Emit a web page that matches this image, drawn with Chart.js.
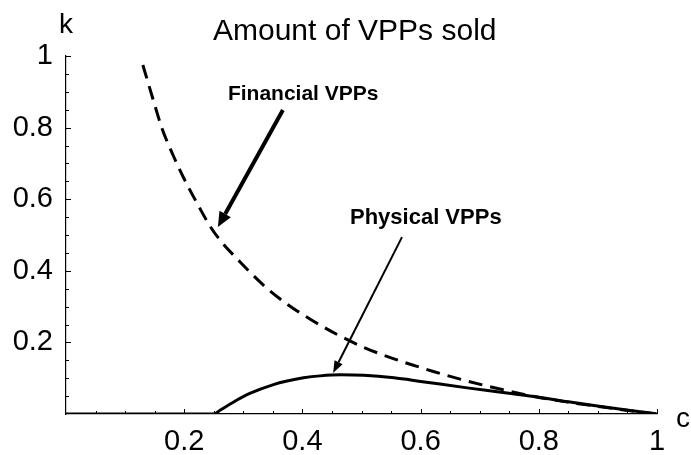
<!DOCTYPE html>
<html>
<head>
<meta charset="utf-8">
<script src="https://cdn.jsdelivr.net/npm/chart.js@4.4.1/dist/chart.umd.min.js"></script>
<style>
  html, body { margin: 0; padding: 0; background: #fff; }
</style>
</head>
<body>
<canvas id="chart" width="691" height="455"></canvas>
<script>
// values: c along the bottom, k up the side
const financialC = [0.130, 0.148, 0.162, 0.182, 0.199, 0.222, 0.244, 0.261, 0.295, 0.334, 0.374, 0.414,
                    0.459, 0.504, 0.555, 0.594, 0.623, 0.679, 0.736, 0.792, 0.850, 0.905, 0.955, 1.0];
const financialK = [0.975, 0.875, 0.800, 0.720, 0.660, 0.588, 0.524, 0.485, 0.424, 0.360, 0.307, 0.264,
                    0.222, 0.186, 0.154, 0.133, 0.118, 0.092, 0.069, 0.049, 0.033, 0.020, 0.009, 0.0];

const physicalC = [0, 0.25, 0.262, 0.283, 0.312, 0.351, 0.374, 0.402, 0.430, 0.465, 0.504, 0.555, 0.600,
                   0.679, 0.736, 0.792, 0.850, 0.905, 0.955, 1.0];
const physicalK = [0, 0, 0.012, 0.033, 0.058, 0.082, 0.092, 0.101, 0.1065, 0.1095, 0.108, 0.101, 0.091,
                   0.073, 0.061, 0.049, 0.034, 0.021, 0.010, 0];

const xTickLabels = [0.2, 0.4, 0.6, 0.8, 1];
const yTickLabels = [0.2, 0.4, 0.6, 0.8, 1];

// callouts, given in data coordinates
const financialNote = { text: 'Financial VPPs', at: [0.274, 0.877], from: [0.367, 0.849], to: [0.257, 0.522] };
const physicalNote = { text: 'Physical VPPs', at: [0.4805, 0.531], from: [0.5685, 0.494], to: [0.452, 0.1145] };

const FONT = '"Liberation Sans", Arial, Helvetica, sans-serif';

function toPoints(xs, ys) {
    return xs.map((x, i) => ({ x: x, y: ys[i] }));
}

function drawArrow(ctx, x1, y1, x2, y2, width, headLen, headHalf) {
    const ang = Math.atan2(y2 - y1, x2 - x1);
    const bx = x2 - headLen * Math.cos(ang);
    const by = y2 - headLen * Math.sin(ang);
    ctx.save();
    ctx.strokeStyle = '#000';
    ctx.fillStyle = '#000';
    ctx.lineWidth = width;
    ctx.beginPath();
    ctx.moveTo(x1, y1);
    ctx.lineTo(bx, by);
    ctx.stroke();
    ctx.beginPath();
    ctx.moveTo(x2, y2);
    ctx.lineTo(bx + headHalf * Math.sin(ang), by - headHalf * Math.cos(ang));
    ctx.lineTo(bx - headHalf * Math.sin(ang), by + headHalf * Math.cos(ang));
    ctx.closePath();
    ctx.fill();
    ctx.restore();
}

// small inward tick marks, the way the original axes have them
const tickMarks = {
    id: 'tickMarks',
    beforeDatasetsDraw(chart) {
        const { ctx, scales: { x, y } } = chart;
        ctx.save();
        ctx.strokeStyle = '#000';
        ctx.lineWidth = 1;
        for (let i = 1; i <= 20; i++) {
            const v = i * 0.05;
            const major = i % 4 === 0;
            const len = major ? 5 : 3;
            const px = Math.round(x.getPixelForValue(v)) + 0.5;
            ctx.beginPath();
            ctx.moveTo(px, y.bottom);
            ctx.lineTo(px, y.bottom - len);
            ctx.stroke();
            const py = Math.round(y.getPixelForValue(v)) + 0.5;
            ctx.beginPath();
            ctx.moveTo(x.left, py);
            ctx.lineTo(x.left + len, py);
            ctx.stroke();
        }
        ctx.restore();
    }
};

const annotations = {
    id: 'annotations',
    afterDraw(chart) {
        const { ctx, scales: { x, y }, chartArea } = chart;
        ctx.save();
        ctx.fillStyle = '#000';
        ctx.textBaseline = 'alphabetic';

        ctx.font = '30px ' + FONT;
        ctx.textAlign = 'left';
        ctx.fillText('Amount of VPPs sold', 213, 40);

        ctx.font = '28px ' + FONT;
        ctx.textAlign = 'center';
        ctx.fillText('k', chartArea.left, 33);
        ctx.fillText('c', chartArea.right + 26, 427);

        ctx.textAlign = 'left';
        ctx.font = 'bold 21px ' + FONT;
        ctx.fillText(financialNote.text, x.getPixelForValue(financialNote.at[0]), y.getPixelForValue(financialNote.at[1]));
        ctx.font = 'bold 22px ' + FONT;
        ctx.fillText(physicalNote.text, x.getPixelForValue(physicalNote.at[0]), y.getPixelForValue(physicalNote.at[1]));
        ctx.restore();

        drawArrow(ctx,
            x.getPixelForValue(financialNote.from[0]), y.getPixelForValue(financialNote.from[1]),
            x.getPixelForValue(financialNote.to[0]), y.getPixelForValue(financialNote.to[1]),
            4, 15, 6.5);
        drawArrow(ctx,
            x.getPixelForValue(physicalNote.from[0]), y.getPixelForValue(physicalNote.from[1]),
            x.getPixelForValue(physicalNote.to[0]), y.getPixelForValue(physicalNote.to[1]),
            2, 12, 4.5);
    }
};

const tickFont = { family: FONT, size: 29 };

new Chart(document.getElementById('chart').getContext('2d'), {
    type: 'line',
    data: {
        datasets: [
            {
                label: 'Financial VPPs',
                data: toPoints(financialC, financialK),
                borderColor: '#000',
                borderWidth: 3,
                borderDash: [14, 8],
                pointRadius: 0,
                fill: false,
                cubicInterpolationMode: 'monotone'
            },
            {
                label: 'Physical VPPs',
                data: toPoints(physicalC, physicalK),
                borderColor: '#000',
                borderWidth: 3,
                pointRadius: 0,
                fill: false,
                cubicInterpolationMode: 'monotone'
            }
        ]
    },
    options: {
        responsive: false,
        animation: false,
        devicePixelRatio: 1,
        layout: { padding: { top: 56, right: 34, bottom: 0, left: 0 } },
        plugins: {
            legend: { display: false },
            title: { display: false },
            tooltip: { enabled: false }
        },
        scales: {
            x: {
                type: 'linear', min: 0, max: 1,
                afterBuildTicks: s => { s.ticks = xTickLabels.map(v => ({ value: v })); },
                afterFit: s => { s.height = 41; },
                grid: { display: false, drawTicks: false },
                border: { display: true, color: '#000', width: 1.2 },
                ticks: { color: '#000', font: tickFont, padding: 11, maxRotation: 0, autoSkip: false,
                         callback: v => String(v) }
            },
            y: {
                type: 'linear', min: 0, max: 1,
                afterBuildTicks: s => { s.ticks = yTickLabels.map(v => ({ value: v })); },
                afterFit: s => { s.width = 66; },
                grid: { display: false, drawTicks: false },
                border: { display: true, color: '#000', width: 1.2 },
                ticks: { color: '#000', font: tickFont, padding: 13, autoSkip: false,
                         callback: v => String(v) }
            }
        }
    },
    plugins: [tickMarks, annotations]
});
</script>
</body>
</html>
